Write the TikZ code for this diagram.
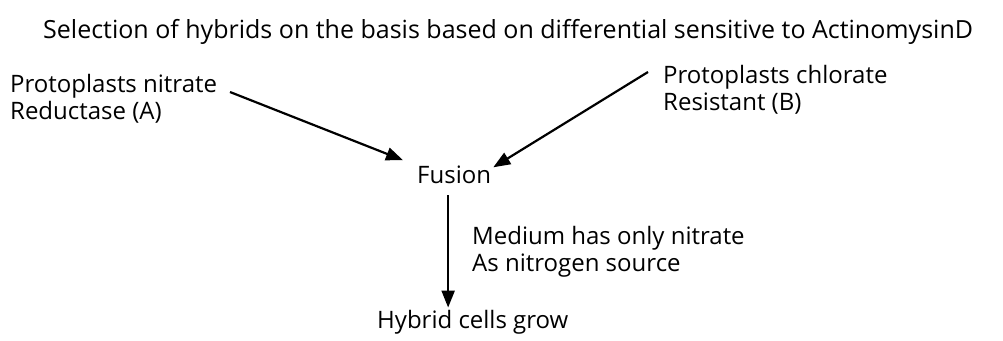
\documentclass[tikz,border=0pt]{standalone}
\usepackage{fontspec}
\setmainfont{Open Sans}
\usetikzlibrary{arrows.meta,positioning}
\tikzset{>={Triangle[length=17pt,width=13pt]},
  every node/.style={font=\fontsize{24}{27}\selectfont,inner sep=0pt},
  caption/.style={align=left,anchor=north west},
  flow/.style={->,line width=2.2pt}}
\begin{document}
\begin{tikzpicture}[x=1pt,y=-1pt]
\useasboundingbox (0,0) rectangle (1003,340);
\node[anchor=base west,font=\fontsize{25}{30}\selectfont] (title) at (43,38) {Selection of hybrids on the basis based on differential sensitive to ActinomysinD};
\node[caption] (nitA) at (10,74) {Protoplasts nitrate\\Reductase (A)};
\node[caption] (chlB) at (663,65) {Protoplasts chlorate\\Resistant (B)};
\node[anchor=base west,inner sep=2pt] (fus) at (415,183) {Fusion};
\node[caption] (med) at (472,226) {Medium has only nitrate\\As nitrogen source};
\node[anchor=base west,inner sep=2pt] (hyb) at (375,328) {Hybrid cells grow};
\coordinate (a0) at (230,92);
\coordinate (b0) at ([shift={(-15,7)}]chlB.north west);
\draw[flow] (a0) -- ([shift={(-12,-3)}]fus.north west);
\draw[flow] (b0) -- ([shift={(0,-7)}]fus.east);
\draw[flow,shorten <=10pt] ([xshift=-6pt]fus.south) -- ([xshift=-6pt]fus.south |- hyb.north);
\end{tikzpicture}
\end{document}
